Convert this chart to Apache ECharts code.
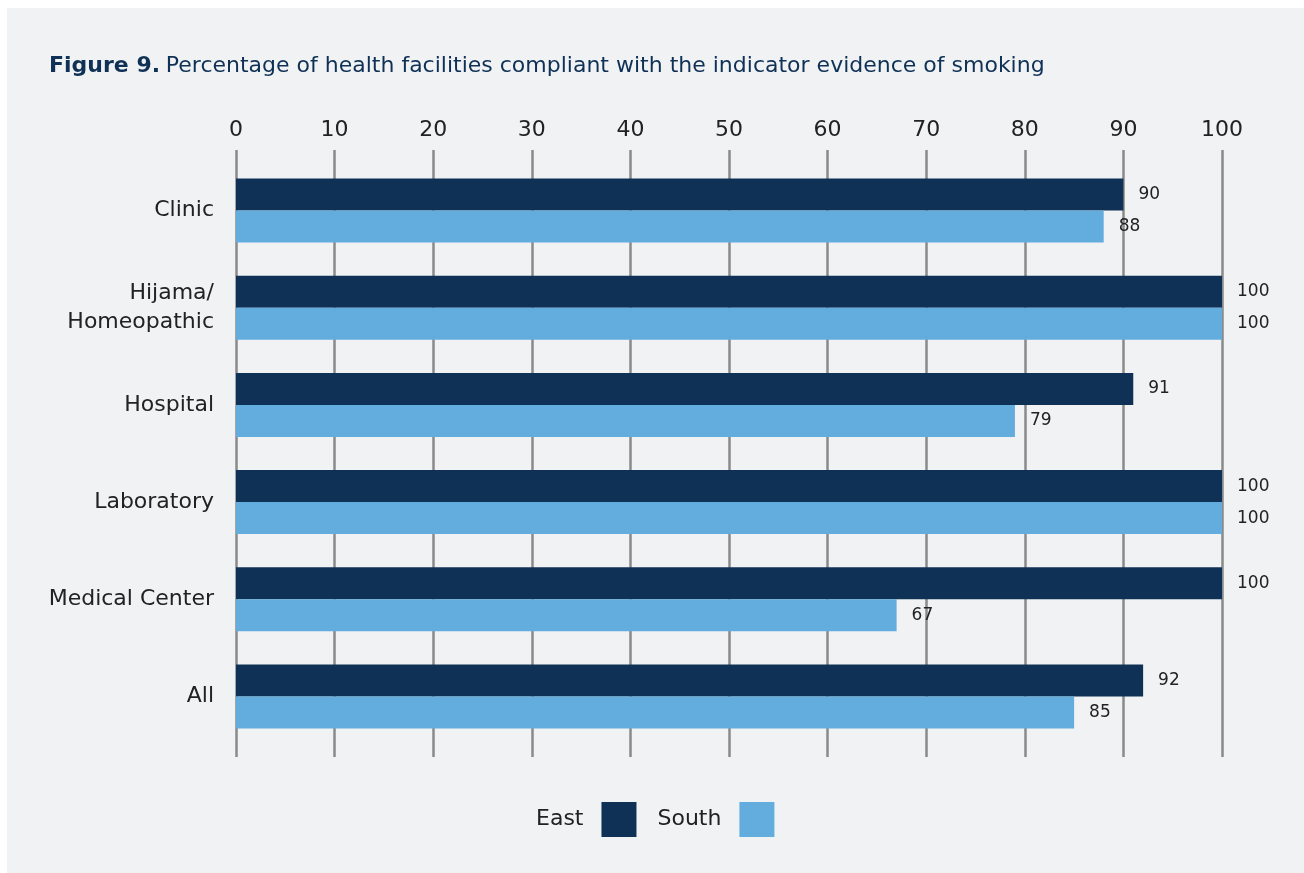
<!DOCTYPE html>
<html>
<head>
<meta charset="utf-8">
<script src="https://cdn.jsdelivr.net/npm/echarts@6/dist/echarts.min.js"></script>
<style>
  html, body { margin: 0; padding: 0; background: #ffffff; overflow: hidden; width: 1304px; height: 873px; }
  #panel { position: absolute; left: 7px; top: 8px; width: 1400px; height: 1000px; background: #f1f2f4; }
  #chart { position: absolute; left: 0; top: 0; width: 1304px; height: 873px; }
</style>
</head>
<body>
<div id="panel"></div>
<div id="chart"></div>
<script>
// Facility types, top to bottom
const categories = ['Clinic', 'Hijama/\nHomeopathic', 'Hospital', 'Laboratory', 'Medical Center', 'All'];
// Percentage compliant, per region
const eastValues = [90, 100, 91, 100, 100, 92];
const southValues = [88, 100, 79, 100, 67, 85];
const seriesNames = ['East', 'South'];
const tickValues = [0, 10, 20, 30, 40, 50, 60, 70, 80, 90, 100];

const FONT = '"DejaVu Sans", "Noto Sans", sans-serif';
const NAVY = '#0f3156';
const SKY = '#63acde';
const TEXT = '#222222';

const chart = echarts.init(document.getElementById('chart'), null, { renderer: 'canvas' });

const valueLabel = {
  show: true,
  position: 'right',
  distance: 15,
  color: TEXT,
  fontFamily: FONT,
  fontSize: 17
};

chart.setOption({
  backgroundColor: 'transparent',
  animation: false,
  textStyle: { fontFamily: FONT },
  title: {
    left: 44,
    top: 50,
    text: '{b|Figure 9.} {r|Percentage of health facilities compliant with the indicator evidence of smoking}',
    textStyle: {
      fontWeight: 'normal',
      rich: {
        b: { fontFamily: FONT, fontSize: 22, fontWeight: 'bold', color: NAVY },
        r: { fontFamily: FONT, fontSize: 22, fontWeight: 'normal', color: NAVY }
      }
    }
  },
  legend: {
    data: seriesNames,
    left: 531,
    top: 797,
    align: 'right',
    itemWidth: 35,
    itemHeight: 35,
    itemGap: 21,
    icon: 'rect',
    textStyle: { color: TEXT, fontFamily: FONT, fontSize: 22, padding: [0, 13, 0, 0] }
  },
  grid: [
    // bars
    { left: 236, right: 82, top: 162, height: 583 },
    // full-height gridlines and top tick labels
    { left: 236, right: 82, top: 150, height: 607 }
  ],
  xAxis: [
    {
      gridIndex: 0, type: 'value', min: 0, max: 100, interval: 10,
      axisLabel: { show: false }, splitLine: { show: false },
      axisLine: { show: false }, axisTick: { show: false }
    },
    {
      gridIndex: 1, type: 'value', min: 0, max: 100, interval: 10,
      position: 'top',
      axisLine: { show: false }, axisTick: { show: false },
      axisLabel: {
        show: true, margin: 9, color: TEXT, fontFamily: FONT, fontSize: 22,
        customValues: tickValues
      },
      splitLine: { show: true, lineStyle: { color: '#8a8a8a', width: 2.5 } }
    }
  ],
  yAxis: [
    {
      gridIndex: 0, type: 'category', data: categories, inverse: true,
      axisLine: { show: false }, axisTick: { show: false },
      axisLabel: {
        margin: 22, color: TEXT, fontFamily: FONT, fontSize: 22,
        lineHeight: 29, align: 'right'
      }
    },
    {
      gridIndex: 1, type: 'category', data: categories, inverse: true,
      axisLine: { show: false }, axisTick: { show: false }, axisLabel: { show: false }
    }
  ],
  series: [
    {
      name: seriesNames[0], type: 'bar', data: eastValues,
      xAxisIndex: 0, yAxisIndex: 0,
      barWidth: 32, barGap: '0%',
      itemStyle: { color: NAVY },
      label: valueLabel
    },
    {
      name: seriesNames[1], type: 'bar', data: southValues,
      xAxisIndex: 0, yAxisIndex: 0,
      barWidth: 32, barGap: '0%',
      itemStyle: { color: SKY },
      label: valueLabel
    }
  ]
});
</script>
</body>
</html>
